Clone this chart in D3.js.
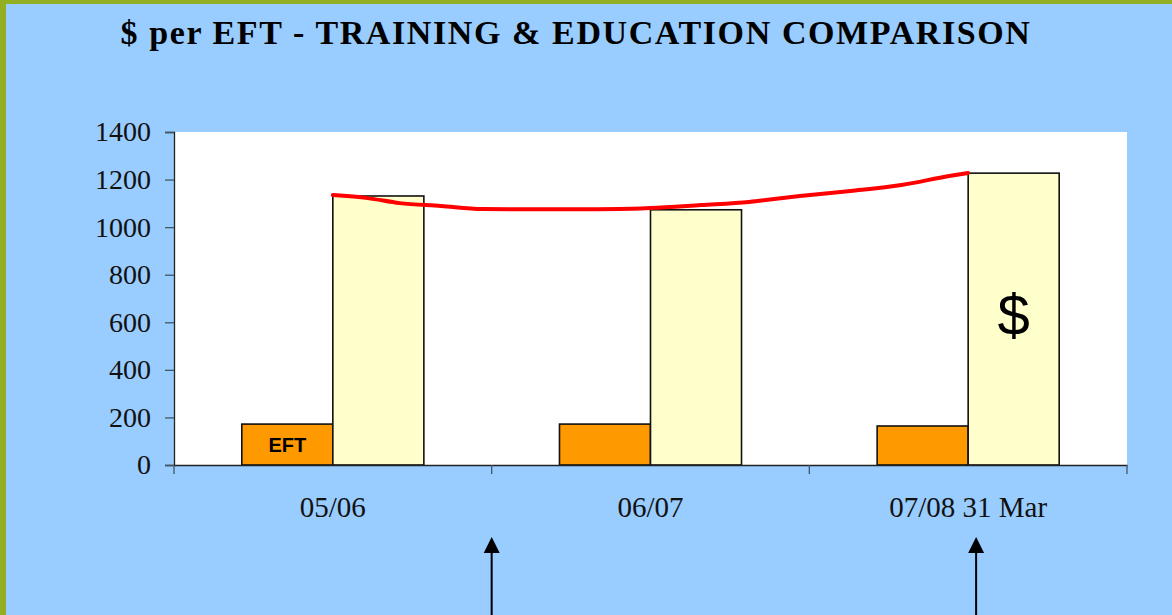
<!DOCTYPE html>
<html>
<head>
<meta charset="utf-8">
<script src="https://cdn.jsdelivr.net/npm/d3@7"></script>
<style>
  body { margin: 0; background: #99CCFF; }
  svg { display: block; }
</style>
</head>
<body>
<svg id="chart" width="1172" height="615"></svg>
<script>
  // chart data
  var categories = ["05/06", "06/07", "07/08 31 Mar"];
  var series = ["EFT", "$"];
  var eftValues = [172, 172, 164];
  var dollarValues = [1131, 1073, 1227];
  var yTicks = [0, 200, 400, 600, 800, 1000, 1200, 1400];

  // hand drawn trend line, position in category units (0 = first category centre)
  var trendPos = [0, 0.11, 0.21, 0.34, 0.47, 0.68, 0.9, 1.0, 1.16, 1.31, 1.47, 1.63, 1.79, 1.94, 2.0];
  var trendVal = [1135, 1122, 1101, 1089, 1076, 1075, 1076, 1080, 1093, 1106, 1131, 1152, 1177, 1215, 1228];

  // arrows below the axis, also in category units
  var arrowPos = [0.5, 2.025];

  var margin = {top: 132, right: 45, bottom: 150, left: 174};
  var W = 1172, H = 615;
  var width = W - margin.left - margin.right;
  var height = H - margin.top - margin.bottom;

  var serif = "Liberation Serif, Times New Roman, serif";
  var sans = "Liberation Sans, Arial, sans-serif";

  var svg = d3.select("#chart");

  // background and olive frame
  svg.append("rect").attr("width", W).attr("height", H).attr("fill", "#99CCFF");
  svg.append("rect").attr("width", 6).attr("height", H).attr("fill", "#94AE22");
  svg.append("rect").attr("width", W).attr("height", 4).attr("fill", "#94AE22");

  svg.append("text")
    .attr("x", 576).attr("y", 44)
    .attr("text-anchor", "middle")
    .attr("font-family", serif)
    .attr("font-weight", "bold")
    .attr("font-size", 34)
    .attr("letter-spacing", 1.6)
    .text("$ per EFT - TRAINING & EDUCATION COMPARISON");

  var g = svg.append("g")
    .attr("transform", "translate(" + margin.left + "," + margin.top + ")");

  g.append("rect").attr("width", width).attr("height", height).attr("fill", "white");

  var x = d3.scaleBand().domain(categories).range([0, width]).padding(0);
  var xs = d3.scaleBand().domain(series).range([0, x.bandwidth()]).paddingInner(0).paddingOuter(0.745);
  var xi = d3.scaleLinear().domain([-0.5, 2.5]).range([0, width]);
  var y = d3.scaleLinear().domain([0, 1400]).range([height, 0]);

  var data = categories.map(function(c, i) {
    return {cat: c, vals: [{s: "EFT", v: eftValues[i]}, {s: "$", v: dollarValues[i]}]};
  });

  var colors = {"EFT": "#FF9900", "$": "#FFFFCC"};

  var groups = g.selectAll(".grp").data(data).enter().append("g")
    .attr("transform", function(d) { return "translate(" + x(d.cat) + ",0)"; });

  groups.selectAll("rect").data(function(d) { return d.vals; }).enter().append("rect")
    .attr("x", function(d) { return xs(d.s); })
    .attr("y", function(d) { return y(d.v); })
    .attr("width", xs.bandwidth())
    .attr("height", function(d) { return height - y(d.v); })
    .attr("fill", function(d) { return colors[d.s]; })
    .attr("stroke", "#111")
    .attr("stroke-width", 1.6);

  // labels inside bars
  g.append("text")
    .attr("x", x(categories[0]) + xs("EFT") + xs.bandwidth() / 2)
    .attr("y", y(eftValues[0] / 2) + 7)
    .attr("text-anchor", "middle")
    .attr("font-family", sans)
    .attr("font-weight", "bold")
    .attr("font-size", 20)
    .text("EFT");

  g.append("text")
    .attr("x", x(categories[2]) + xs("$") + xs.bandwidth() / 2)
    .attr("y", y(600) + 13)
    .attr("text-anchor", "middle")
    .attr("font-family", sans)
    .attr("font-size", 58)
    .text("$");

  // trend line
  var trend = trendPos.map(function(p, i) { return {p: p, v: trendVal[i]}; });
  g.append("path")
    .datum(trend)
    .attr("fill", "none")
    .attr("stroke", "#FF0000")
    .attr("stroke-width", 4)
    .attr("stroke-linecap", "round")
    .attr("d", d3.line()
      .x(function(d) { return xi(d.p); })
      .y(function(d) { return y(d.v); })
      .curve(d3.curveMonotoneX));

  // axes
  var yAxis = g.append("g")
    .call(d3.axisLeft(y).tickValues(yTicks).tickSize(9).tickPadding(14).tickFormat(d3.format("d")));
  yAxis.select(".domain").attr("stroke", "#222").attr("stroke-width", 1.3);
  yAxis.selectAll(".tick line").attr("stroke", "#445566").attr("stroke-width", 1.3);
  yAxis.selectAll("text")
    .attr("font-family", serif)
    .attr("font-size", 28).attr("fill", "#111");

  var xAxis = g.append("g")
    .attr("transform", "translate(0," + height + ")")
    .call(d3.axisBottom(x).tickSize(0).tickPadding(31));
  xAxis.select(".domain").attr("stroke", "#222").attr("stroke-width", 1.3);
  xAxis.selectAll("text")
    .attr("font-family", serif)
    .attr("font-size", 29).attr("fill", "#111");

  // category separator ticks
  g.append("g").selectAll("line")
    .data([0, 1, 2, 3])
    .enter().append("line")
    .attr("x1", function(d) { return xi(d - 0.5); })
    .attr("x2", function(d) { return xi(d - 0.5); })
    .attr("y1", height).attr("y2", height + 9)
    .attr("stroke", "#445566").attr("stroke-width", 1.3);

  // arrows
  var arrows = g.append("g").selectAll("g").data(arrowPos).enter().append("g")
    .attr("transform", function(d) { return "translate(" + xi(d) + "," + (height + 72) + ")"; });
  arrows.append("path").attr("d", "M0,0 L-8,16 L8,16 Z").attr("fill", "#000");
  arrows.append("line")
    .attr("x1", 0).attr("x2", 0).attr("y1", 14).attr("y2", 90)
    .attr("stroke", "#000").attr("stroke-width", 2);
</script>
</body>
</html>
